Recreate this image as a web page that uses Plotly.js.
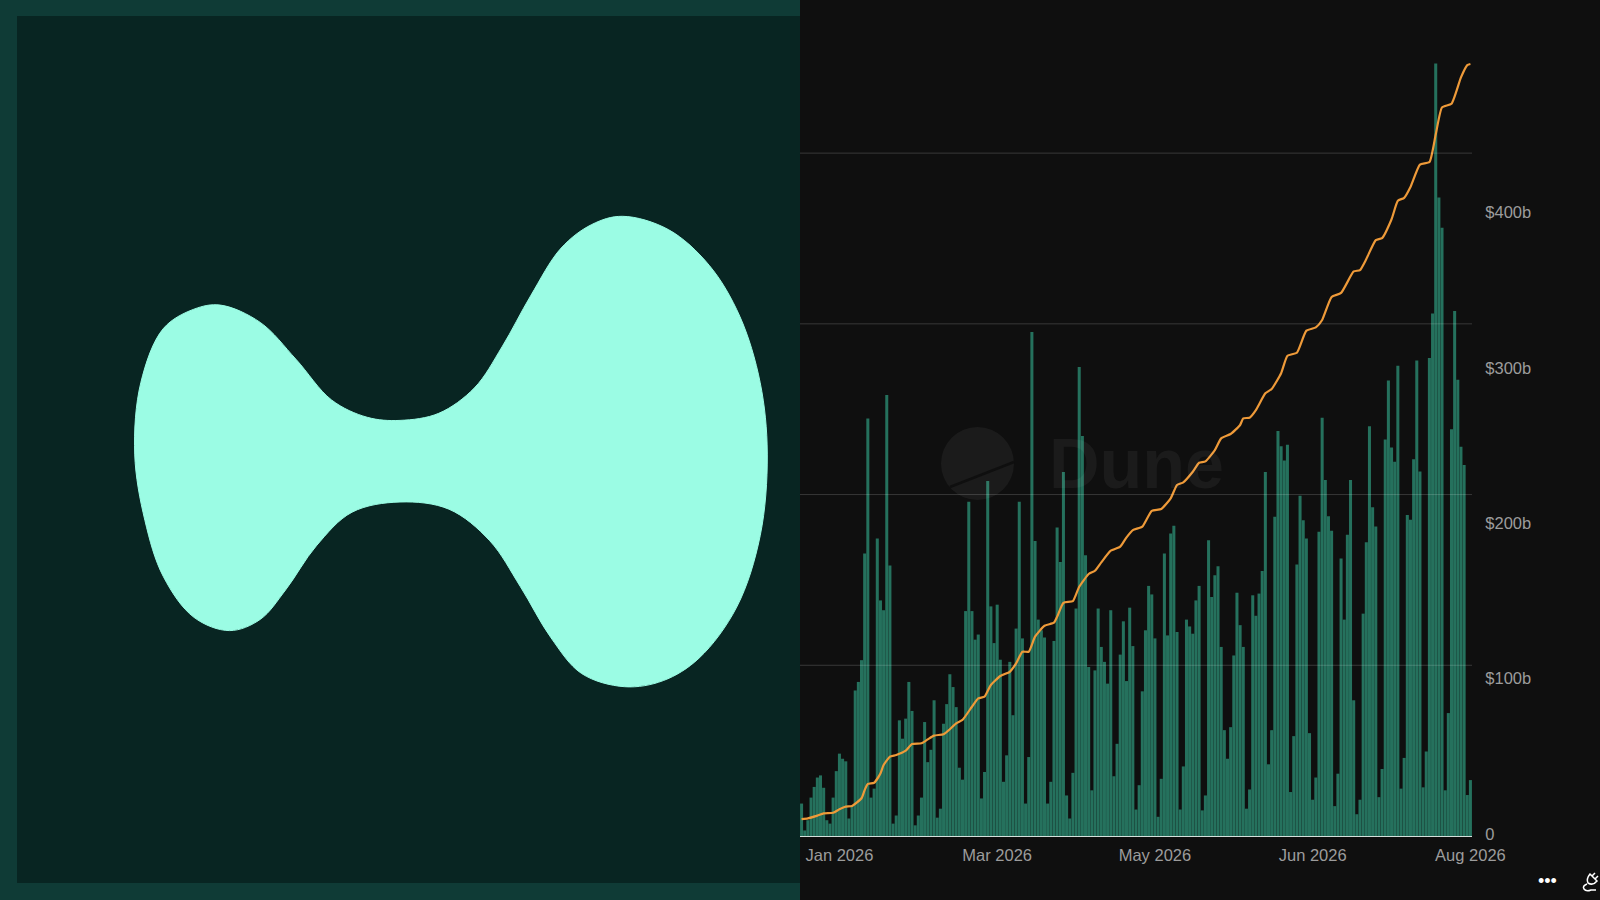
<!DOCTYPE html>
<html>
<head>
<meta charset="utf-8">
<script src="https://cdn.plot.ly/plotly-3.0.1.min.js"></script>
<style>
  html, body { margin: 0; padding: 0; background: #0f0f0f; }
  #chart { width: 1600px; height: 900px; }
</style>
</head>
<body>
<div id="chart"></div>
<script>
// daily volume ($b, the bar axis has no labels so the scale is a guess)
const dailyVolume = [
  0.76, 0.13, 0.37, 0.90, 1.15, 1.37, 1.42, 1.13, 0.37, 0.29, 0.90, 1.52, 1.93, 1.81, 1.75, 0.41, 0.72, 3.41, 3.61, 4.12,
  6.62, 9.78, 0.90, 1.11, 6.97, 5.52, 5.29, 10.33, 6.34, 0.29, 0.48, 2.71, 2.28, 2.75, 3.61,
  2.93, 0.25, 0.48, 0.90, 2.67, 1.73, 2.02, 3.18, 0.43, 0.64, 2.63, 3.09, 3.79, 3.49, 3.02, 1.60, 1.32, 5.27, 7.83, 5.27,
  4.60, 4.72, 0.88, 1.50, 8.32, 5.38, 4.52, 5.42, 4.13, 1.27, 1.89, 4.08, 2.83, 4.86, 7.83, 4.63,
  0.76, 1.85, 11.81, 6.91, 5.07, 4.82, 4.65, 0.76, 1.27, 4.57, 7.23, 6.42, 8.53, 0.95, 0.41, 1.48, 5.33, 10.99, 9.37,
  6.58, 3.96, 1.07, 3.88, 5.33, 4.43, 4.08, 3.57, 5.29, 1.40, 2.16, 4.25, 5.03, 3.63, 5.35, 4.45,
  0.62, 1.19, 3.39, 4.82, 5.86, 5.66, 4.63, 0.45, 1.34, 6.62, 4.70, 7.09, 7.27, 4.78, 0.62, 1.63, 5.07, 4.91, 4.74,
  5.52, 5.86, 0.60, 0.95, 6.93, 5.60, 6.11, 6.32, 4.43, 2.48, 1.81, 2.55, 4.23, 5.70, 4.94, 4.43, 0.64,
  1.09, 5.64, 5.16, 5.68, 6.21, 8.53, 1.68, 2.48, 7.48, 9.49, 9.13, 8.80, 9.17, 1.03, 2.34, 6.36, 7.97, 7.40, 6.97,
  2.41, 0.85, 1.37, 7.13, 9.80, 8.34, 7.49, 7.15, 0.70, 1.46, 6.50, 5.07, 7.06, 8.34, 3.18, 0.51,
  0.85, 5.21, 6.88, 9.60, 7.70, 7.25, 0.91, 1.57, 9.29, 10.67, 9.10, 8.77, 11.02, 1.11, 1.83, 7.52, 7.41, 8.83, 11.14,
  8.54, 1.14, 1.98, 11.20, 12.24, 18.10, 14.96, 14.25, 1.07, 2.88, 9.53, 12.30, 10.69, 9.12, 8.69, 0.96, 1.31
];
const days = dailyVolume.map((v, i) => i);

// cumulative volume ($b), read at the corners of the weekly steps
const cumDays = [
  0, 2, 5, 7, 10, 12, 14, 16, 19, 20, 21, 23, 25, 26, 28, 30, 33, 35,
  38, 40, 42, 45, 47, 49, 51, 54, 56, 58, 60, 63, 66, 68, 70,
  72, 74, 77, 80, 81, 83, 86, 88, 91, 93, 95, 98, 101, 103, 105,
  108, 111, 114, 117, 119, 121, 124, 126, 128, 131, 133, 136, 139, 140, 142,
  144, 147, 149, 152, 154, 157, 160, 163, 165, 168, 171, 175, 177,
  179, 182, 184, 187, 189, 191, 193, 196, 199, 201, 203, 206, 209, 211, 212
];
const cumVolume = [
  9.6, 10.1, 11.8, 13.3, 13.7, 15.9, 17.6, 18, 23, 28.3, 32.2, 33, 39, 44.4, 49.8, 50.8, 53.6, 57.9,
  58.4, 60.9, 63.3, 64.2, 67.4, 71.2, 73.4, 81.9, 87.3, 88.4, 95.9, 101.7, 104.4, 109.8, 117.3,
  117.3, 127, 134, 136, 139.8, 148.8, 149.9, 159.1, 167.3, 169.4, 174.8, 182.3, 184.9, 190.9, 195.6,
  197.8, 208, 209.1, 216, 224.6, 226.3, 233.1, 238.9, 239.8, 247.1, 254.6, 257.4, 263.2, 267.5, 267.9,
  272.8, 283.6, 286.4, 296.5, 307.8, 309.7, 323.9, 326, 330.8, 345.6, 348.2, 362, 362.9,
  370, 382.2, 383.5, 395.6, 407.5, 409.4, 416.4, 430.8, 432.4, 450.1, 467.6, 469.9, 486.9, 494.8, 495.5
];

const xTickDays = [12, 62, 112, 162, 212];
const xTickLabels = ["Jan 2026", "Mar 2026", "May 2026", "Jun 2026", "Aug 2026"];
const y2TickVals = [0, 100, 200, 300, 400];
const y2TickLabels = ["0", "$100b", "$200b", "$300b", "$400b"];
const gridVals = [4, 8, 12, 16];

// logo outline, in page pixels
const blobX = [622.4, 668.4, 709.2, 739.8, 760.2, 767.3, 760.2, 736.7, 699, 663.3, 624.5, 581.6, 551, 520.4, 489.8, 449, 400, 352, 316.3, 285.7, 260.2, 229.6, 193.9, 163.3, 144.9, 134.7, 140.8, 163.3, 193.9, 220.4, 260.2, 295.9, 331.6, 367.3, 400, 438.8, 474.5, 502, 530.6, 561.2, 591.8, 622.4];
const blobY = [216.3, 229.6, 265.3, 316.3, 382.7, 454.1, 535.7, 607.1, 658.2, 680.6, 686.7, 673.5, 637.8, 586.7, 540.8, 509.2, 502, 512.2, 545.9, 589.8, 619.4, 630.6, 617.3, 576.5, 520.4, 454.1, 382.7, 328.6, 309.2, 305.1, 322.4, 359.2, 400, 417.3, 420.4, 413.3, 387.8, 346.9, 295.9, 248, 224.5, 216.3];

const FONT = "Liberation Sans, Arial, Helvetica, sans-serif";
const W = 1600, H = 900;
const px = x => x / W;
const py = y => 1 - y / H;

function pagePath(cmds) {
  // cmds use page pixels, shapes want paper fractions
  return cmds.map(c => c[0] + c.slice(1).map((v, i) => (i % 2 === 0 ? px(v) : py(v)).toFixed(5)).join(",")).join(" ");
}

const traces = [
  {
    x: blobX, y: blobY, xaxis: "x3", yaxis: "y3", type: "scatter", mode: "lines",
    fill: "toself", fillcolor: "#9bfce4",
    line: { color: "#9bfce4", width: 1, shape: "spline", smoothing: 1 },
    hoverinfo: "skip", showlegend: false
  },
  {
    x: days, y: dailyVolume, type: "bar", name: "Daily volume",
    marker: { color: "#25715d", line: { width: 0 } }, showlegend: false
  },
  {
    x: cumDays, y: cumVolume, yaxis: "y2", type: "scatter", mode: "lines", name: "Cumulative volume",
    line: { color: "#ee9a39", width: 2.2, shape: "spline", smoothing: 0.5 }, showlegend: false
  }
];

const shapes = [
  { type: "rect", xref: "paper", yref: "paper", layer: "below", x0: 0, x1: px(800), y0: 0, y1: 1, fillcolor: "#0f3b36", line: { width: 0 } },
  { type: "rect", xref: "paper", yref: "paper", layer: "below", x0: px(17), x1: px(800), y0: py(883), y1: py(16), fillcolor: "#082522", line: { width: 0 } },
  // Dune watermark
  { type: "circle", xref: "paper", yref: "paper", layer: "above", x0: px(941), x1: px(1014), y0: py(500), y1: py(427), fillcolor: "rgba(255,255,255,0.05)", line: { width: 0 } },
  { type: "line", xref: "paper", yref: "paper", layer: "above", x0: px(950), x1: px(1014), y0: py(487), y1: py(462), line: { color: "#0f0f0f", width: 2.5 } },
  // plug icon, bottom right
  {
    type: "path", xref: "paper", yref: "paper", layer: "above",
    path: pagePath([["M", 1592, 876], ["L", 1595, 873], ["M", 1595, 879], ["L", 1598, 876],
      ["M", 1590, 874], ["L", 1597, 881], ["Q", 1593, 886, 1588, 883], ["Q", 1586, 879, 1590, 874], ["Z"],
      ["M", 1587, 884], ["Q", 1582, 886, 1584, 889], ["Q", 1586, 892, 1591, 890], ["L", 1596, 890]]),
    line: { color: "#ffffff", width: 1.5 }
  }
].concat(gridVals.map(v => ({
  type: "line", xref: "paper", yref: "y", layer: "above", x0: 0.5, x1: 0.92, y0: v, y1: v,
  line: { color: "rgba(255,255,255,0.17)", width: 1 }
})));

const layout = {
  width: W, height: H,
  margin: { l: 0, r: 0, t: 0, b: 0 },
  paper_bgcolor: "#0f0f0f",
  plot_bgcolor: "rgba(0,0,0,0)",
  font: { family: FONT, size: 16.5, color: "#9c9c9c" },
  bargap: 0.04,
  showlegend: false,
  xaxis: {
    domain: [0.5, 0.92], range: [-0.5, 212.5], tickmode: "array", tickvals: xTickDays, ticktext: xTickLabels,
    showgrid: false, zeroline: false, showline: true, linecolor: "#d5dfdb", linewidth: 1.2,
    ticks: "outside", ticklen: 4, tickcolor: "rgba(0,0,0,0)", automargin: false
  },
  yaxis: {
    domain: [py(836), py(46)], range: [0, 18.51], visible: false, fixedrange: true
  },
  yaxis2: {
    domain: [py(836), py(46)], overlaying: "y", side: "right", anchor: "x", range: [-1.29, 507.1],
    tickmode: "array", tickvals: y2TickVals, ticktext: y2TickLabels,
    showgrid: false, zeroline: false, showline: false,
    ticks: "outside", ticklen: 9, tickcolor: "rgba(0,0,0,0)", automargin: false
  },
  xaxis3: { domain: [0, 0.5], range: [0, 800], visible: false, anchor: "y3" },
  yaxis3: { domain: [0, 1], range: [900, 0], visible: false, anchor: "x3" },
  shapes: shapes,
  annotations: [
    { xref: "paper", yref: "paper", x: px(1136), y: py(464), xanchor: "center", yanchor: "middle", text: "<b>Dune</b>", showarrow: false,
      font: { family: FONT, size: 70, color: "rgba(255,255,255,0.05)" } },
    { xref: "paper", yref: "paper", x: px(1547), y: py(881), xanchor: "center", yanchor: "middle", text: "•••", showarrow: false,
      font: { family: FONT, size: 18, color: "#ffffff" } }
  ]
};

Plotly.newPlot("chart", traces, layout, { displayModeBar: false, responsive: false });
</script>
</body>
</html>
